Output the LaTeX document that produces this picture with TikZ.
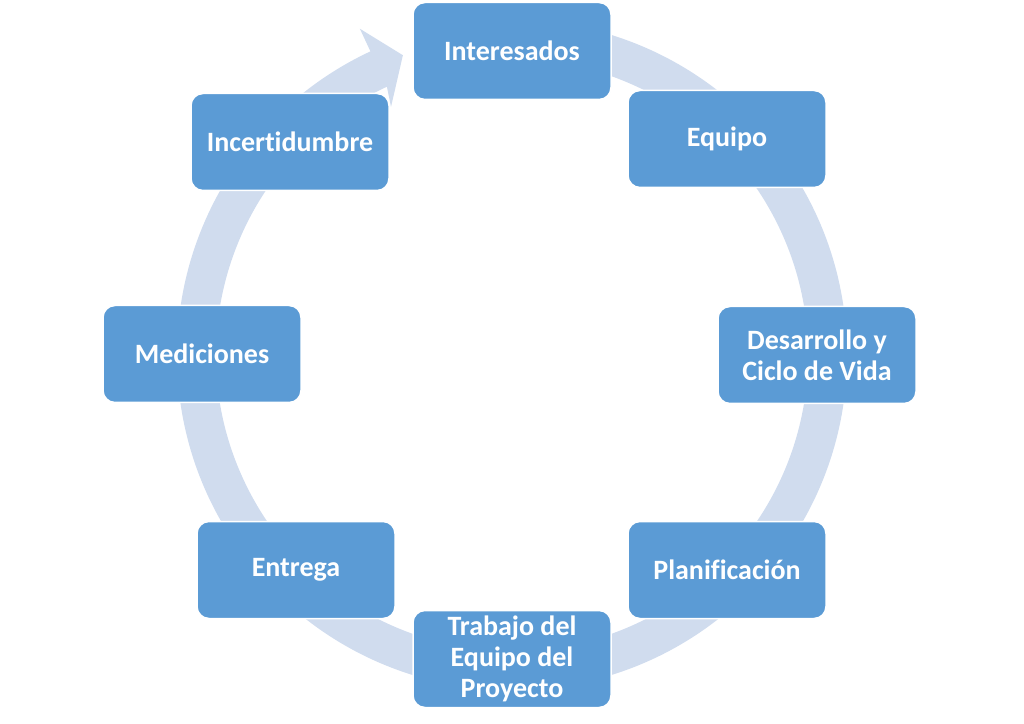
\documentclass[tikz,border=0pt]{standalone}
\usepackage{fontspec}
\setmainfont{Carlito}[Ligatures=NoCommon]
\definecolor{boxblue}{HTML}{5B9BD5}
\definecolor{ringblue}{HTML}{D0DCEE}
\begin{document}
\begin{tikzpicture}[x=1pt,y=1pt,
  cyclebox/.style={rectangle, rounded corners=12pt, minimum width=198pt, minimum height=97pt,
    fill=boxblue, draw=white, line width=1.5pt, text=white, align=center,
    font=\bfseries\fontsize{28}{31}\selectfont, inner sep=2pt}]
\useasboundingbox (0,0) rectangle (1024,723);
\begin{scope}[shift={(512,368)}]
\fill[ringblue] (92:335) arc[start angle=92, end angle=-245, radius=335]
  -- (-245:360) -- (-250:319) -- (-244:276) -- (-245:296)
  arc[start angle=-245, end angle=92, radius=296] -- cycle;
\end{scope}
\node[cyclebox] (int) at (512,672) {Interesados};
\node[cyclebox] (equ) at (727,584) {Equipo};
\node[cyclebox] (des) at (817,368) {Desarrollo y\\Ciclo de Vida};
\node[cyclebox] (pla) at (727,153) {Planificación};
\node[cyclebox] (tra) at (512,64) {Trabajo del\\Equipo del\\Proyecto};
\node[cyclebox] (ent) at (296,153) {Entrega};
\node[cyclebox] (med) at (202,369) {Mediciones};
\node[cyclebox] (inc) at (290,581) {Incertidumbre};
\end{tikzpicture}
\end{document}
